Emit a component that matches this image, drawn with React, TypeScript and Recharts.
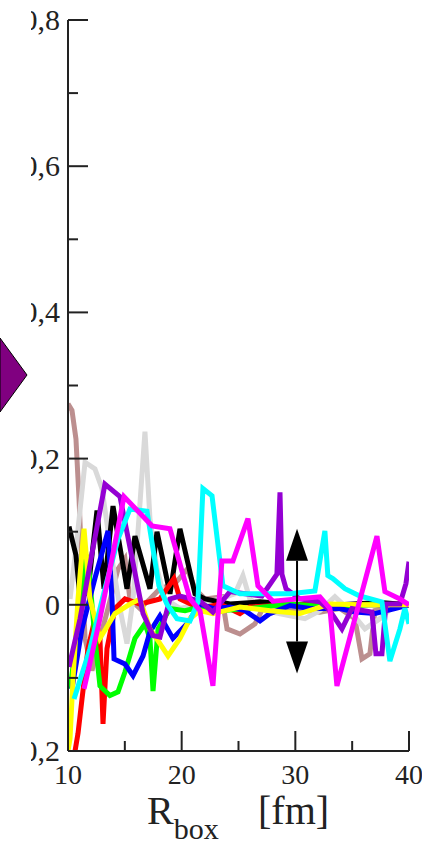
import React from 'react';
import { LineChart, Line, XAxis, YAxis, ReferenceLine } from 'recharts';

type Pt = [number, number];

// axis ticks
const xTicks = [10, 15, 20, 25, 30, 35, 40];
const xMajor = [10, 20, 30, 40];
const yTicks = [-0.2, -0.1, 0, 0.1, 0.2, 0.3, 0.4, 0.5, 0.6, 0.7, 0.8];
const yMajor = [-0.2, 0, 0.2, 0.4, 0.6, 0.8];

// one curve per run, [R_box, value]
const brown: Pt[] = [
  [10.0, 0.275], [10.35, 0.266], [10.7, 0.227], [10.97, 0.145], [11.23, 0.049], [11.5, -0.046],
  [12.11, -0.09], [12.81, -0.046], [13.52, -0.005], [14.4, 0.049], [15.01, 0.063], [15.45, 0.008],
  [16.33, -0.005], [17.21, 0.008], [18.09, 0.022], [19.41, 0.029], [20.5, 0.049], [21.17, 0.022],
  [22.05, 0.008], [23.54, 0.011], [23.99, -0.033], [25.13, -0.04], [26.45, -0.026], [27.33, 0.001],
  [29.53, -0.005], [32.16, -0.01], [33.92, -0.005], [35.24, -0.019], [35.86, -0.074], [36.56, -0.067],
  [37.0, -0.008], [39.2, 0.0], [40.0, 0.0],
];

const gray: Pt[] = [
  [10.18, 0.008], [10.79, 0.09], [11.5, 0.195], [12.37, 0.186], [12.99, 0.159], [13.87, 0.063],
  [14.57, -0.005], [15.19, -0.053], [15.72, 0.008], [16.24, 0.118], [16.77, 0.237], [17.21, 0.118],
  [17.83, 0.049], [18.53, 0.008], [19.85, -0.005], [21.61, 0.001], [23.37, 0.008], [24.69, 0.015],
  [25.39, 0.04], [26.0, 0.008], [27.33, -0.008], [29.53, -0.015], [30.84, -0.019], [32.16, -0.008],
  [33.48, 0.011], [34.8, -0.008], [36.12, -0.033], [37.44, -0.019], [38.76, 0.0], [40.0, 0.0],
];

const black: Pt[] = [
  [10.09, 0.107], [10.35, 0.09], [10.7, 0.068], [11.06, 0.008], [11.76, 0.019], [12.55, 0.129],
  [13.17, 0.022], [13.96, 0.135], [15.19, 0.022], [15.89, 0.094], [17.21, 0.022], [17.83, 0.1],
  [18.97, 0.015], [19.85, 0.104], [21.17, 0.015], [22.05, 0.008], [24.25, 0.001], [26.89, 0.004],
  [30.4, 0.0], [33.92, 0.0], [37.44, 0.003], [40.0, 0.0],
];

const red: Pt[] = [
  [10.62, -0.2], [10.88, -0.176], [11.23, -0.129], [11.76, -0.06], [12.37, -0.019], [12.81, -0.046],
  [13.08, -0.163], [13.43, -0.06], [14.13, -0.005], [15.01, 0.008], [16.33, 0.001], [18.09, 0.008],
  [19.32, 0.036], [19.85, 0.008], [21.61, -0.005], [23.37, 0.001], [25.13, -0.012], [26.0, -0.003],
  [29.53, 0.0], [34.8, 0.0], [40.0, 0.0],
];

const green: Pt[] = [
  [10.18, -0.115], [10.88, -0.033], [11.5, 0.07], [11.76, 0.063], [12.37, -0.046], [12.81, -0.111],
  [13.69, -0.124], [14.4, -0.119], [15.01, -0.092], [15.89, -0.046], [16.77, -0.026], [17.21, -0.046],
  [17.48, -0.118], [17.92, -0.033], [18.97, -0.005], [20.29, -0.008], [21.61, -0.003], [23.37, -0.008],
  [26.0, -0.005], [29.53, 0.001], [33.04, -0.003], [36.56, 0.0], [40.0, 0.0],
];

const blue: Pt[] = [
  [10.35, -0.115], [11.23, -0.033], [12.37, 0.036], [13.52, 0.101], [13.87, 0.008], [14.05, -0.074],
  [15.01, -0.081], [15.72, -0.097], [16.6, -0.07], [17.21, -0.037], [18.09, -0.015], [19.23, -0.046],
  [20.47, -0.026], [21.61, 0.001], [22.75, -0.005], [24.25, -0.003], [25.57, -0.008], [26.89, -0.022],
  [27.77, -0.012], [29.53, -0.001], [31.28, -0.005], [33.92, -0.005], [35.24, -0.01], [37.0, -0.012],
  [38.76, -0.005], [40.0, 0.0],
];

const yellow: Pt[] = [
  [10.0, -0.2], [10.18, -0.183], [10.44, -0.101], [10.88, 0.008], [11.41, 0.104], [11.93, 0.008],
  [12.81, -0.046], [14.13, -0.012], [15.45, 0.001], [16.33, 0.008], [17.21, -0.033], [18.09, -0.053],
  [18.8, -0.07], [19.85, -0.046], [20.73, -0.019], [21.61, -0.008], [22.75, -0.012], [23.81, -0.008],
  [25.13, -0.003], [27.77, -0.008], [30.4, -0.012], [33.04, 0.001], [35.68, 0.0], [40.0, 0.0],
];

const purple: Pt[] = [
  [10.09, -0.085], [11.06, -0.019], [12.11, 0.07], [13.25, 0.165], [14.57, 0.148], [16.6, -0.012],
  [17.48, -0.042], [18.09, -0.044], [18.97, 0.008], [19.85, 0.012], [21.61, 0.005], [22.75, -0.01],
  [24.25, 0.018], [25.57, 0.015], [27.06, 0.012], [28.38, 0.042], [28.65, 0.154], [28.82, 0.042],
  [29.18, 0.022], [30.4, 0.008], [32.16, 0.004], [33.04, -0.008], [34.1, -0.033], [34.98, -0.005],
  [36.74, -0.01], [37.09, -0.067], [37.62, -0.067], [37.97, 0.001], [39.2, 0.001], [39.73, 0.029],
  [40.0, 0.059],
];

const cyan: Pt[] = [
  [10.53, -0.129], [11.93, -0.06], [13.25, 0.022], [14.4, 0.09], [15.45, 0.131], [16.95, 0.128],
  [18.0, 0.026], [18.7, 0.001], [19.59, -0.019], [20.73, -0.022], [21.43, 0.004], [21.87, 0.159],
  [22.67, 0.149], [23.63, 0.026], [25.13, 0.015], [27.33, 0.015], [29.53, 0.015], [31.72, 0.019],
  [32.6, 0.101], [32.86, 0.04], [33.3, 0.036], [34.36, 0.022], [35.68, 0.012], [37.62, 0.004],
  [38.32, -0.077], [39.2, -0.033], [39.64, -0.005], [40.0, -0.026],
];

const magenta: Pt[] = [
  [11.41, -0.115], [12.81, -0.019], [13.87, 0.063], [14.93, 0.148], [17.39, 0.108], [18.97, 0.104],
  [20.73, 0.008], [21.61, -0.008], [22.75, -0.111], [23.54, 0.06], [24.51, 0.06], [25.83, 0.118],
  [26.71, 0.026], [28.03, 0.005], [32.16, 0.011], [33.04, -0.005], [33.66, -0.111], [37.18, 0.094],
  [37.88, 0.018], [39.2, 0.008], [40.0, 0.0],
];

// double arrow marking the spread around R_box = 30 fm
const arrowX = 30.15;
const arrowTop = 0.104;
const arrowBottom = -0.094;

const series = [
  { key: 'brown', color: '#bc8f8f', pts: brown },
  { key: 'gray', color: '#d9d9d9', pts: gray },
  { key: 'black', color: '#000000', pts: black },
  { key: 'red', color: '#ff0000', pts: red },
  { key: 'green', color: '#00ff00', pts: green },
  { key: 'blue', color: '#0000ff', pts: blue },
  { key: 'yellow', color: '#ffff00', pts: yellow },
  { key: 'purple', color: '#9400d3', pts: purple },
  { key: 'cyan', color: '#00ffff', pts: cyan },
  { key: 'magenta', color: '#ff00ff', pts: magenta },
];

const INK = '#222';
const FONT = "'Liberation Serif', 'DejaVu Serif', serif";
const MAJOR = 20;
const MINOR = 10;

const isMajor = (v: number, list: number[]) => list.some((m) => Math.abs(m - v) < 1e-6);
const fmt = (v: number) => (Math.abs(v) < 1e-9 ? '0' : String(+v.toFixed(1)).replace('.', ','));

const BottomTick = (p: any) => {
  const v = p.payload.value;
  const major = isMajor(v, xMajor);
  return (
    <g>
      <line x1={p.x} x2={p.x} y1={p.y} y2={p.y - (major ? MAJOR : MINOR)} stroke={INK} strokeWidth={2} />
      {major && (
        <text x={p.x} y={p.y + 33} textAnchor="middle" fontSize={28} fill={INK} fontFamily={FONT}>
          {v}
        </text>
      )}
    </g>
  );
};

const TopTick = (p: any) => {
  const major = isMajor(p.payload.value, xMajor);
  return <line x1={p.x} x2={p.x} y1={p.y} y2={p.y + (major ? MAJOR : MINOR)} stroke={INK} strokeWidth={2} />;
};

// left labels sit partly past the page edge, only a sliver of the leading digit shows
const LeftTick = (p: any) => {
  const v = p.payload.value;
  const major = isMajor(v, yMajor);
  const id = `ylab-${p.index}`;
  return (
    <g>
      <line x1={p.x} x2={p.x + (major ? MAJOR : MINOR)} y1={p.y} y2={p.y} stroke={INK} strokeWidth={2} />
      {major && (
        <>
          <clipPath id={id}>
            <rect x={31} y={p.y - 30} width={36} height={60} />
          </clipPath>
          <text
            x={p.x - 8}
            y={p.y + 10}
            textAnchor="end"
            fontSize={30}
            fill={INK}
            fontFamily={FONT}
            clipPath={`url(#${id})`}
          >
            {fmt(v)}
          </text>
        </>
      )}
    </g>
  );
};

const RightTick = (p: any) => {
  const major = isMajor(p.payload.value, yMajor);
  return <line x1={p.x} x2={p.x - (major ? MAJOR : MINOR)} y1={p.y} y2={p.y} stroke={INK} strokeWidth={2} />;
};

const AxisTitle = ({ viewBox }: any) => {
  const { x, y } = viewBox;
  return (
    <text x={x + 79} y={y + 73} fontSize={40} fill={INK} fontFamily={FONT}>
      R
      <tspan fontSize={30} dy={15}>box</tspan>
      <tspan x={x + 190} dy={-15}>[fm]</tspan>
    </text>
  );
};

const DoubleArrow = (p: any) => {
  const { x1, y1, y2 } = p;
  const top = Math.min(y1, y2);
  const bot = Math.max(y1, y2);
  const head = 32;
  const half = 11;
  return (
    <g>
      <line x1={x1} x2={x1} y1={top + head} y2={bot - head} stroke="#000" strokeWidth={2} />
      <polygon points={`${x1},${top} ${x1 - half},${top + head} ${x1 + half},${top + head}`} fill="#000" />
      <polygon points={`${x1},${bot} ${x1 - half},${bot - head} ${x1 + half},${bot - head}`} fill="#000" />
    </g>
  );
};

export default function App() {
  return (
    <div style={{ position: 'absolute', left: 0, top: 0, width: 422, height: 845, background: '#fff' }}>
      <LineChart
        width={422}
        height={845}
        margin={{ top: 20, right: 13, bottom: 34, left: 8 }}
        style={{ fontFamily: FONT }}
      >
        <XAxis
          dataKey="x"
          type="number"
          domain={[10, 40]}
          ticks={xTicks}
          interval={0}
          allowDataOverflow
          height={60}
          tickSize={0}
          tickMargin={0}
          tickLine={false}
          axisLine={{ stroke: INK, strokeWidth: 2 }}
          tick={BottomTick}
          label={{ content: (props: any) => <AxisTitle viewBox={props.viewBox} /> }}
        />
        <XAxis
          xAxisId="top"
          orientation="top"
          dataKey="x"
          type="number"
          domain={[10, 40]}
          ticks={xTicks}
          interval={0}
          height={0}
          tickSize={0}
          tickMargin={0}
          tickLine={false}
          axisLine={{ stroke: INK, strokeWidth: 2 }}
          tick={TopTick}
        />
        <YAxis
          type="number"
          domain={[-0.2, 0.8]}
          ticks={yTicks}
          interval={0}
          allowDataOverflow
          width={60}
          tickSize={0}
          tickMargin={0}
          tickLine={false}
          axisLine={{ stroke: INK, strokeWidth: 2 }}
          tick={LeftTick}
        />
        <YAxis
          yAxisId="right"
          orientation="right"
          type="number"
          domain={[-0.2, 0.8]}
          ticks={yTicks}
          interval={0}
          width={0}
          tickSize={0}
          tickMargin={0}
          tickLine={false}
          axisLine={{ stroke: INK, strokeWidth: 2 }}
          tick={RightTick}
        />
        {series.map((s) => (
          <Line
            key={s.key}
            data={s.pts.map(([x, y]) => ({ x, y }))}
            dataKey="y"
            type="linear"
            stroke={s.color}
            strokeWidth={5}
            dot={false}
            activeDot={false}
            isAnimationActive={false}
          />
        ))}
        <ReferenceLine
          segment={[
            { x: arrowX, y: arrowTop },
            { x: arrowX, y: arrowBottom },
          ]}
          shape={DoubleArrow}
        />
      </LineChart>
      <svg width={30} height={845} style={{ position: 'absolute', left: 0, top: 0, pointerEvents: 'none' }}>
        <polygon points="0,338 27,375 0,412" fill="#800080" stroke="#000" strokeWidth={1} />
      </svg>
    </div>
  );
}
